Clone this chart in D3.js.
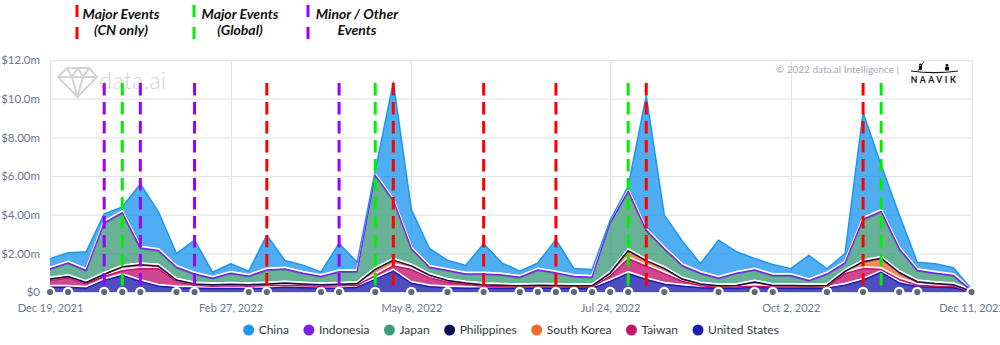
<!DOCTYPE html>
<html><head><meta charset="utf-8">
<script src="https://cdn.jsdelivr.net/npm/d3@7"></script>
<style>
html,body{margin:0;padding:0;background:#fff;}
svg{display:block;font-family:Lato, "Noto Sans", sans-serif;}
</style></head>
<body><svg id="chart" width="1000" height="345"></svg>
<script>
// ---------- DATA ----------
const startDate = "2021-12-19";
const weekCount = 52;
const seriesNames = ["China","Indonesia","Japan","Philippines","South Korea","Taiwan","United States"];
const seriesColors = ["#1e96ee","#7d1fe6","#3c9c7a","#0c0c52","#f4692a","#c2136f","#1c1cb0"];
// revenue in $ millions per week
const china = [0.53,0.53,0.97,0.46,0.30,3.32,2.00,0.71,1.75,0.31,0.49,0.26,1.80,0.44,0.42,0.24,1.46,0.49,0.22,6.12,2.02,0.97,0.53,0.44,1.57,0.63,0.32,0.37,1.72,0.41,0.40,0.13,0.26,6.96,1.74,1.27,0.49,1.97,1.11,0.59,0.57,0.36,1.31,0.27,0.49,5.53,2.40,1.76,0.43,0.49,0.40,0.08];
const indonesia = [0.03,0.03,0.03,0.04,0.04,0.04,0.04,0.03,0.03,0.03,0.03,0.03,0.03,0.03,0.03,0.03,0.03,0.03,0.05,0.05,0.04,0.03,0.03,0.03,0.03,0.03,0.03,0.03,0.03,0.03,0.03,0.04,0.05,0.05,0.04,0.03,0.03,0.03,0.03,0.03,0.03,0.03,0.03,0.03,0.03,0.05,0.05,0.04,0.03,0.03,0.03,0.00];
const japan = [0.49,0.67,0.59,2.62,2.76,0.82,0.77,0.63,0.48,0.31,0.54,0.41,0.69,0.69,0.52,0.39,0.62,0.58,4.81,3.04,0.85,0.38,0.48,0.43,0.52,0.50,0.41,0.76,0.62,0.45,0.41,2.56,3.02,1.52,0.98,0.66,0.52,0.36,0.60,0.59,0.48,0.48,0.24,0.56,0.40,2.14,2.37,1.19,0.55,0.50,0.44,0.03];
const philippines = [0.02,0.02,0.02,0.02,0.02,0.02,0.02,0.02,0.02,0.02,0.02,0.02,0.02,0.02,0.02,0.02,0.02,0.02,0.02,0.03,0.02,0.02,0.02,0.02,0.02,0.02,0.02,0.02,0.02,0.02,0.02,0.02,0.03,0.03,0.02,0.02,0.02,0.02,0.02,0.02,0.02,0.02,0.02,0.02,0.02,0.03,0.03,0.02,0.02,0.02,0.02,0.00];
const southKorea = [0.05,0.05,0.05,0.10,0.18,0.19,0.12,0.05,0.05,0.05,0.06,0.06,0.07,0.12,0.08,0.06,0.06,0.07,0.30,0.27,0.17,0.12,0.07,0.06,0.06,0.06,0.05,0.07,0.06,0.05,0.05,0.14,0.39,0.26,0.25,0.10,0.08,0.05,0.06,0.20,0.06,0.06,0.05,0.06,0.10,0.33,0.56,0.34,0.16,0.12,0.08,0.02];
const taiwan = [0.35,0.48,0.22,0.20,0.25,0.65,0.90,0.33,0.15,0.12,0.14,0.12,0.13,0.08,0.10,0.10,0.12,0.10,0.20,0.27,0.71,0.46,0.29,0.19,0.10,0.07,0.07,0.06,0.06,0.07,0.07,0.27,0.76,0.68,0.55,0.25,0.10,0.05,0.06,0.05,0.06,0.06,0.07,0.06,0.60,0.60,0.14,0.18,0.08,0.05,0.06,0.01];
const unitedStates = [0.25,0.25,0.20,0.60,0.85,0.55,0.30,0.22,0.20,0.18,0.18,0.18,0.20,0.25,0.22,0.20,0.20,0.25,0.65,1.08,0.45,0.27,0.22,0.20,0.20,0.20,0.18,0.20,0.20,0.18,0.18,0.55,0.96,0.65,0.40,0.30,0.22,0.20,0.20,0.25,0.20,0.20,0.18,0.20,0.35,0.61,1.02,0.47,0.27,0.25,0.22,0.01];
const xTickLabels = ["Dec 19, 2021","Feb 27, 2022","May 8, 2022","Jul 24, 2022","Oct 2, 2022","Dec 11, 2022"];
const yTickValues = [0,2,4,6,8,10,12];
const yTickLabels = ["$0","$2.00m","$4.00m","$6.00m","$8.00m","$10.0m","$12.0m"];
// event weeks (dates)
const eventsCN = ["2022-03-13","2022-05-01","2022-06-05","2022-07-03","2022-08-07","2022-10-30"];
const eventsGlobal = ["2022-01-16","2022-04-24","2022-07-31","2022-11-06"];
const eventsMinor = ["2022-01-09","2022-01-23","2022-02-13","2022-04-10"];
// flag markers along the axis (dates)
const flagDates = ["2021-12-19","2021-12-26","2022-01-09","2022-01-16","2022-01-23","2022-02-06","2022-02-13","2022-03-06","2022-03-13","2022-04-03","2022-04-10","2022-04-24","2022-05-08","2022-05-22","2022-06-05","2022-06-19","2022-06-26","2022-07-03","2022-07-10","2022-07-17","2022-07-24","2022-07-31","2022-08-14","2022-09-04","2022-09-18","2022-09-25","2022-10-16","2022-10-30","2022-11-13","2022-11-20","2022-12-11"];
const topLegend = [
  {color:"#ff0000", lines:["Major Events","(CN only)"]},
  {color:"#00f000", lines:["Major Events","(Global)"]},
  {color:"#9b00ff", lines:["Minor / Other","Events"]}
];

// ---------- CHART ----------
const svg = d3.select("#chart");
const parse = d3.utcParse("%Y-%m-%d");
const start = parse(startDate);
const dates = d3.range(weekCount).map(i => d3.utcDay.offset(start, 7*i));
const seriesArrays = [china, indonesia, japan, philippines, southKorea, taiwan, unitedStates];
const rows = dates.map((d,i) => {
  const r = {date:d};
  seriesNames.forEach((n,k) => r[n] = seriesArrays[k][i]);
  return r;
});
const color = d3.scaleOrdinal(seriesNames, seriesColors);

const plot = {left:50, right:971.5, top:60, bottom:292};
const x = d3.scaleUtc().domain([dates[0], dates[dates.length-1]]).range([plot.left, plot.right]);
const y = d3.scaleLinear().domain([0,12]).range([plot.bottom, plot.top]);

// gridlines
const gridColor = "#e3e4ea";
svg.append("g").selectAll("line").data(yTickValues).join("line")
  .attr("x1", plot.left).attr("x2", plot.right)
  .attr("y1", d=>y(d)+0.5).attr("y2", d=>y(d)+0.5)
  .attr("stroke", gridColor).attr("stroke-width",1.2);
const xTickDates = xTickLabels.map(s => d3.utcParse("%b %d, %Y")(s));
svg.append("g").selectAll("line").data(xTickDates).join("line")
  .attr("x1", d=>Math.round(x(d))+0.5).attr("x2", d=>Math.round(x(d))+0.5)
  .attr("y1", plot.top).attr("y2", plot.bottom)
  .attr("stroke", gridColor).attr("stroke-width",1.2);

// watermark data.ai
const wm = svg.append("g").attr("fill","none").attr("stroke","#d3d3d6").attr("stroke-width",2);
wm.append("path").attr("d","M58,77 L67,68 L89,68 L97,77 L77.5,97 Z M58,77 L97,77 M67,68 L72,77 L77.5,97 L83,77 L89,68 M72,77 L78,68 L83,77");
svg.append("text").attr("x",99).attr("y",89).attr("font-size",24).attr("fill","#d3d3d6")
  .attr("font-family","Lato").attr("font-weight",300).text("data.ai");

// copyright + NAAVIK
svg.append("text").attr("x",899).attr("y",72.5).attr("text-anchor","end").attr("font-size",10)
  .attr("fill","#a9abb8").text("© 2022 data.ai Intelligence |");
const boat = svg.append("g").attr("fill","#111");
boat.append("path").attr("d","M911,70.5 Q934,73.5 958,70.5 L958,71.6 Q934,74.8 911,71.6 Z");
boat.append("path").attr("d","M919,70 L919,66 Q920.5,64.5 922,66 L922,70 Z M920.5,64.8 m-1.4,0 a1.4,1.4 0 1,0 2.8,0 a1.4,1.4 0 1,0 -2.8,0");
boat.append("path").attr("d","M924,61.5 L918,71").attr("stroke","#111").attr("stroke-width",0.8);
boat.append("path").attr("d","M945,70.5 L945,67 Q947,65.5 949,67 L949,70.5 Z M947,65.3 m-1.5,0 a1.5,1.5 0 1,0 3,0 a1.5,1.5 0 1,0 -3,0");
svg.append("text").attr("x",934.5).attr("y",83).attr("text-anchor","middle").attr("font-size",8.5)
  .attr("font-weight",700).attr("letter-spacing",2.6).attr("fill","#111").text("NAAVIK");

// stacked areas (bottom to top)
const stackKeys = seriesNames.slice().reverse();
const stacked = d3.stack().keys(stackKeys)(rows);
const area = d3.area().x(d=>x(d.data.date)).y0(d=>y(d[0])).y1(d=>y(d[1]));
const topLine = d3.line().x(d=>x(d.data.date)).y(d=>y(d[1]));
const gA = svg.append("g");
gA.selectAll("path").data(stacked).join("path")
  .attr("d", area).attr("fill", d=>color(d.key)).attr("fill-opacity",0.78);
const gL = svg.append("g");
stacked.forEach(s => {
  if (s.key !== "China") {
    gL.append("path").attr("d", topLine(s)).attr("fill","none")
      .attr("stroke","#fff").attr("stroke-width",2).attr("transform","translate(0,-1.5)");
  }
  gL.append("path").attr("d", topLine(s)).attr("fill","none")
    .attr("stroke", color(s.key)).attr("stroke-width",1.5).attr("stroke-linejoin","round");
});

// event dashed lines
const evG = svg.append("g");
[[eventsMinor,"#9b00ff"],[eventsGlobal,"#00f000"],[eventsCN,"#ff0000"]].forEach(([arr,c]) => {
  evG.selectAll(null).data(arr).join("line")
    .attr("x1", d=>x(parse(d))).attr("x2", d=>x(parse(d)))
    .attr("y1", 83).attr("y2", 290)
    .attr("stroke", c).attr("stroke-width",3).attr("stroke-dasharray","12.5,6.5");
});

// flags
svg.append("g").selectAll("circle").data(flagDates).join("circle")
  .attr("cx", d=>x(parse(d))).attr("cy", plot.bottom)
  .attr("r", 4.2).attr("fill","#5d6a7e").attr("stroke","#fff").attr("stroke-width",2.2);

// axes
const yAxis = d3.axisLeft(y).tickValues(yTickValues).tickFormat((d,i)=>yTickLabels[i]).tickSize(0).tickPadding(0);
const gy = svg.append("g").attr("transform","translate(40,0)").call(yAxis);
gy.select(".domain").remove();
gy.selectAll("text").attr("font-size",11.5).attr("fill","#6b7890").attr("font-family","Lato");

const xAxis = d3.axisBottom(x).tickValues(xTickDates).tickFormat((d,i)=>xTickLabels[i]).tickSize(0).tickPadding(0);
const gx = svg.append("g").attr("transform","translate(0,304)").call(xAxis);
gx.select(".domain").remove();
gx.selectAll("text").attr("font-size",11).attr("fill","#6b7890").attr("font-family","Lato");

// bottom legend
const leg = svg.append("g");
let cx = 0;
seriesNames.forEach(n => {
  const g = leg.append("g");
  g.append("circle").attr("cx",0).attr("cy",0).attr("r",5.5).attr("fill",color(n));
  const t = g.append("text").attr("x",10).attr("y",4.3).attr("font-size",12).attr("fill","#333a45").text(n);
  const w = t.node().getComputedTextLength();
  g.attr("transform",`translate(${cx},330)`);
  cx += 10 + w + 20;
});
const totalW = cx - 20 + 5.5;
const offset = 511 - totalW/2 + 5.5;
leg.attr("transform",`translate(${offset},0)`);

// top event legend
const tl = svg.append("g");
const markX = [77, 194, 308];
const textCX = [121, 240, 357];
topLegend.forEach((e,i) => {
  tl.append("line").attr("x1",markX[i]).attr("x2",markX[i]).attr("y1",5).attr("y2",39)
    .attr("stroke",e.color).attr("stroke-width",3).attr("stroke-dasharray","12,10");
  e.lines.forEach((ln,j) => {
    tl.append("text").attr("x",textCX[i]).attr("y",19+j*15.5).attr("text-anchor","middle")
      .attr("font-size",14).attr("font-weight",700).attr("font-style","italic")
      .attr("fill","#111").attr("font-family","Lato").text(ln);
  });
});
</script></body></html>
